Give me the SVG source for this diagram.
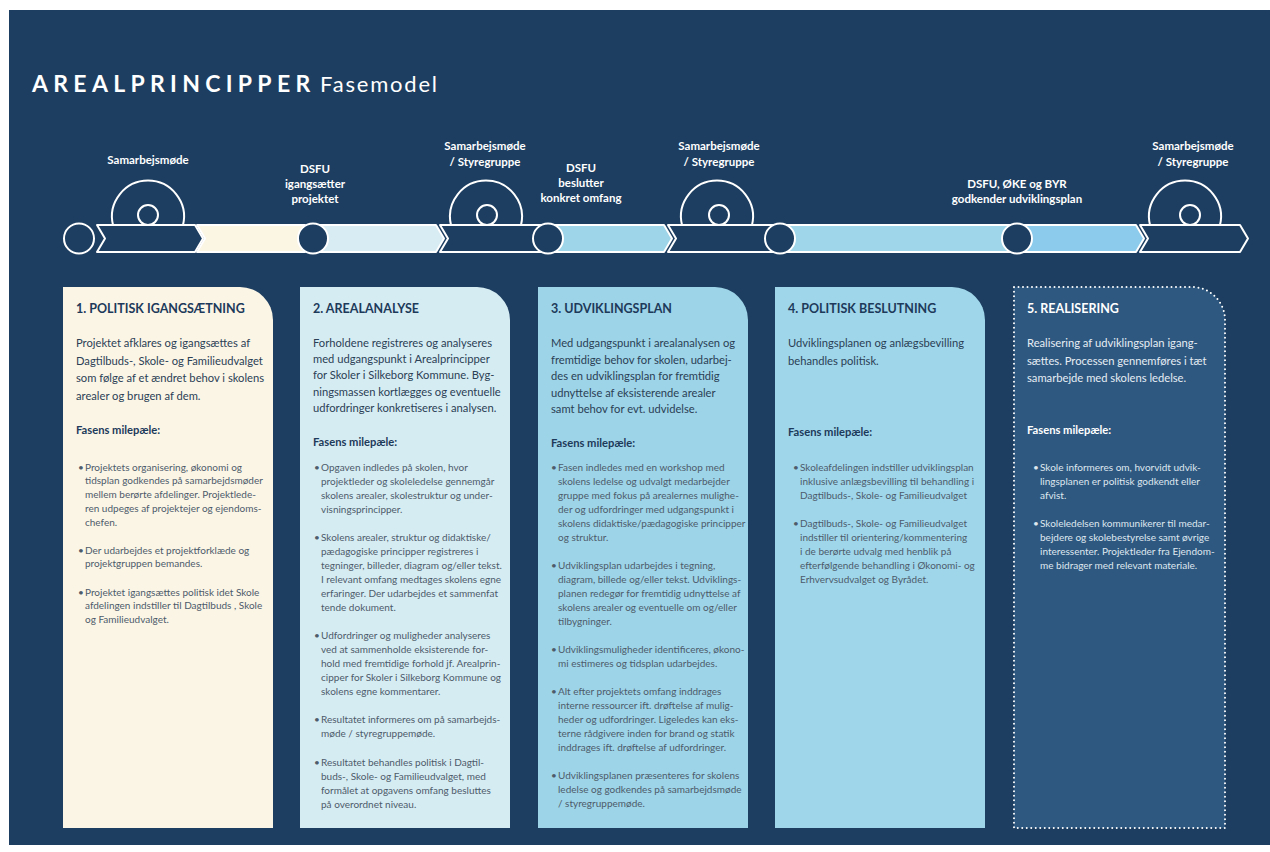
<svg xmlns="http://www.w3.org/2000/svg" width="1270" height="852" viewBox="0 0 1270 852">
<style>
.bg{fill:#1d3e60}
.ln{stroke:#ffffff;stroke-width:2;stroke-linejoin:round}
.dk{fill:#1d3e60}
.lbl{font-family:Lato,"Liberation Sans",sans-serif;font-weight:bold;font-size:11.5px;fill:#ffffff;text-anchor:middle}
.ct{font-family:Lato,"Liberation Sans",sans-serif;font-weight:bold;font-size:12.5px;fill:#1d3a5a}
.cp{font-family:Lato,"Liberation Sans",sans-serif;font-size:11.2px;fill:#2b3f55}
.cf{font-family:Lato,"Liberation Sans",sans-serif;font-weight:bold;font-size:11.2px;fill:#1d3a5a}
.cb{font-family:Lato,"Liberation Sans",sans-serif;font-size:10px;fill:#4d5b6a}
.w .ct,.w .cf{fill:#ffffff}
.w .cp{fill:#e6edf4}
.w .cb{fill:#dfe7ef}
</style>
<rect x="0" y="0" width="1270" height="852" fill="#ffffff"/>
<rect class="bg" x="9" y="10" width="1261" height="835"/>
<g id="title">
<text x="32" y="92" font-family="Lato,'Liberation Sans',sans-serif" font-weight="bold" font-size="23" fill="#ffffff" letter-spacing="5.3">AREALPRINCIPPER</text>
<text x="320" y="92" font-family="Lato,'Liberation Sans',sans-serif" font-size="22" fill="#ffffff" letter-spacing="1.8">Fasemodel</text>
</g>
<g id="meeting-rolls">
<path class="ln dk" d="M113,225 A36,36 0 1 1 183,225"/>
<path class="ln dk" d="M451,225 A36,36 0 1 1 521,225"/>
<path class="ln dk" d="M682,225 A36,36 0 1 1 752,225"/>
<path class="ln dk" d="M1150,225 A36,36 0 1 1 1220,225"/>
</g>
<g id="connectors">
<path class="ln" fill="#fbf5e4" d="M197,225 H305 V252 H197 L205,238.5 Z"/>
<path class="ln" fill="#d8ecf3" d="M313,225 H436 L444,238.5 L436,252 H313 Z"/>
<path class="ln" fill="#9fd5e8" d="M548,225 H664 L672,238.5 L664,252 H548 Z"/>
<path class="ln" fill="#9fd6ea" d="M780,225 H1017 V252 H780 Z"/>
<path class="ln" fill="#8ccbeb" d="M1017,225 H1136 L1144,238.5 L1136,252 H1017 Z"/>
</g>
<g id="meeting1">
<path class="ln dk" d="M97,225 H195 L203,238.5 L195,252 H97 L105,238.5 Z"/>
<circle class="ln dk" cx="148" cy="215" r="10"/>
<text class="lbl" x="148" y="164">Samarbejsmøde</text>
</g>
<g id="meeting2">
<path class="ln dk" d="M440,225 H548 V252 H440 L448,238.5 Z"/>
<circle class="ln dk" cx="487" cy="215" r="10"/>
<text class="lbl" x="485" y="150">Samarbejsmøde</text>
<text class="lbl" x="485" y="166">/ Styregruppe</text>
</g>
<g id="meeting3">
<path class="ln dk" d="M668,225 H780 V252 H668 L676,238.5 Z"/>
<circle class="ln dk" cx="719" cy="215" r="10"/>
<text class="lbl" x="719" y="150">Samarbejsmøde</text>
<text class="lbl" x="719" y="166">/ Styregruppe</text>
</g>
<g id="meeting4">
<path class="ln dk" d="M1140,225 H1240 L1248,238.5 L1240,252 H1140 L1148,238.5 Z"/>
<circle class="ln dk" cx="1190" cy="215" r="10"/>
<text class="lbl" x="1193" y="150">Samarbejsmøde</text>
<text class="lbl" x="1193" y="166">/ Styregruppe</text>
</g>
<g id="milestone0"><circle class="ln dk" cx="79" cy="238.5" r="15"/></g>
<g id="milestone1">
<circle class="ln dk" cx="313" cy="238.5" r="15"/>
<text class="lbl" x="315" y="173">DSFU</text>
<text class="lbl" x="315" y="188">igangsætter</text>
<text class="lbl" x="315" y="203">projektet</text>
</g>
<g id="milestone2">
<circle class="ln dk" cx="548" cy="238.5" r="15"/>
<text class="lbl" x="581" y="172">DSFU</text>
<text class="lbl" x="581" y="187">beslutter</text>
<text class="lbl" x="581" y="202">konkret omfang</text>
</g>
<g id="milestone3"><circle class="ln dk" cx="780" cy="238.5" r="15"/></g>
<g id="milestone4">
<circle class="ln dk" cx="1017" cy="238.5" r="15"/>
<text class="lbl" x="1017" y="188">DSFU, ØKE og BYR</text>
<text class="lbl" x="1017" y="203">godkender udviklingsplan</text>
</g>

<g id="card1">
<path fill="#fbf5e6" d="M63,287 H240 A33,33 0 0 1 273,320 V828 H63 Z"/>
<text class="ct" x="76" y="312.5">1. POLITISK IGANGSÆTNING</text>
<text class="cp"><tspan x="76" y="347">Projektet afklares og igangsættes af</tspan><tspan x="76" y="364.5">Dagtilbuds-, Skole- og Familieudvalget</tspan><tspan x="76" y="382">som følge af et ændret behov i skolens</tspan><tspan x="76" y="399.5">arealer og brugen af dem.</tspan></text>
<text class="cf" x="76" y="434">Fasens milepæle:</text>
<text class="cb"><tspan x="78" y="470.5">•</tspan><tspan x="85" y="470.5">Projektets organisering, økonomi og</tspan><tspan x="85" y="484.3">tidsplan godkendes på samarbejdsmøder</tspan><tspan x="85" y="498.1">mellem berørte afdelinger. Projektlede-</tspan><tspan x="85" y="511.9">ren udpeges af projektejer og ejendoms-</tspan><tspan x="85" y="525.7">chefen.</tspan>
<tspan x="78" y="553.5">•</tspan><tspan x="85" y="553.5">Der udarbejdes et projektforklæde og</tspan><tspan x="85" y="567.3">projektgruppen bemandes.</tspan>
<tspan x="78" y="595.5">•</tspan><tspan x="85" y="595.5">Projektet igangsættes politisk idet Skole</tspan><tspan x="85" y="609.3">afdelingen indstiller til Dagtilbuds , Skole</tspan><tspan x="85" y="623.1">og Familieudvalget.</tspan></text>
</g>

<g id="card2">
<path fill="#d6ecf3" d="M300,287 H477 A33,33 0 0 1 510,320 V828 H300 Z"/>
<text class="ct" x="313" y="312.5">2. AREALANALYSE</text>
<text class="cp"><tspan x="313" y="347">Forholdene registreres og analyseres</tspan><tspan x="313" y="363.2">med udgangspunkt i Arealprincipper</tspan><tspan x="313" y="379.4">for Skoler i Silkeborg Kommune. Byg-</tspan><tspan x="313" y="395.6">ningsmassen kortlægges og eventuelle</tspan><tspan x="313" y="411.8">udfordringer konkretiseres i analysen.</tspan></text>
<text class="cf" x="313" y="446">Fasens milepæle:</text>
<text class="cb"><tspan x="314" y="470.5">•</tspan><tspan x="321" y="470.5">Opgaven indledes på skolen, hvor</tspan><tspan x="321" y="484.5">projektleder og skoleledelse gennemgår</tspan><tspan x="321" y="498.5">skolens arealer, skolestruktur og under-</tspan><tspan x="321" y="512.5">visningsprincipper.</tspan>
<tspan x="314" y="540.5">•</tspan><tspan x="321" y="540.5">Skolens arealer, struktur og didaktiske/</tspan><tspan x="321" y="554.5">pædagogiske principper registreres i</tspan><tspan x="321" y="568.5">tegninger, billeder, diagram og/eller tekst.</tspan><tspan x="321" y="582.5">I relevant omfang medtages skolens egne</tspan><tspan x="321" y="596.5">erfaringer. Der udarbejdes et sammenfat</tspan><tspan x="321" y="610.5">tende dokument.</tspan>
<tspan x="314" y="638.5">•</tspan><tspan x="321" y="638.5">Udfordringer og muligheder analyseres</tspan><tspan x="321" y="652.5">ved at sammenholde eksisterende for-</tspan><tspan x="321" y="666.5">hold med fremtidige forhold jf.  Arealprin-</tspan><tspan x="321" y="680.5">cipper for Skoler i Silkeborg Kommune og</tspan><tspan x="321" y="694.5">skolens egne kommentarer.</tspan>
<tspan x="314" y="722.5">•</tspan><tspan x="321" y="722.5">Resultatet informeres om på samarbejds-</tspan><tspan x="321" y="736.5">møde / styregruppemøde.</tspan>
<tspan x="314" y="765.5">•</tspan><tspan x="321" y="765.5">Resultatet behandles politisk i Dagtil-</tspan><tspan x="321" y="779.5">buds-, Skole- og Familieudvalget, med</tspan><tspan x="321" y="793.5">formålet at opgavens omfang besluttes</tspan><tspan x="321" y="807.5">på overordnet niveau.</tspan></text>
</g>

<g id="card3">
<path fill="#9dd4e8" d="M538,287 H715 A33,33 0 0 1 748,320 V828 H538 Z"/>
<text class="ct" x="551" y="312.5">3. UDVIKLINGSPLAN</text>
<text class="cp"><tspan x="551" y="347">Med udgangspunkt i arealanalysen og</tspan><tspan x="551" y="363.5">fremtidige behov for skolen, udarbej-</tspan><tspan x="551" y="380">des en udviklingsplan for fremtidig</tspan><tspan x="551" y="396.5">udnyttelse af eksisterende arealer</tspan><tspan x="551" y="413">samt behov for evt. udvidelse.</tspan></text>
<text class="cf" x="551" y="447">Fasens milepæle:</text>
<text class="cb"><tspan x="551" y="470.5">•</tspan><tspan x="558" y="470.5">Fasen indledes med en workshop med</tspan><tspan x="558" y="484.5">skolens ledelse og udvalgt medarbejder</tspan><tspan x="558" y="498.5">gruppe med fokus på arealernes mulighe-</tspan><tspan x="558" y="512.5">der og udfordringer med udgangspunkt i</tspan><tspan x="558" y="526.5">skolens didaktiske/pædagogiske principper</tspan><tspan x="558" y="540.5">og struktur.</tspan>
<tspan x="551" y="568.5">•</tspan><tspan x="558" y="568.5">Udviklingsplan udarbejdes i tegning,</tspan><tspan x="558" y="582.5">diagram, billede og/eller tekst. Udviklings-</tspan><tspan x="558" y="596.5">planen redegør for fremtidig udnyttelse af</tspan><tspan x="558" y="610.5">skolens arealer og eventuelle om  og/eller</tspan><tspan x="558" y="624.5">tilbygninger.</tspan>
<tspan x="551" y="652.5">•</tspan><tspan x="558" y="652.5">Udviklingsmuligheder identificeres, økono-</tspan><tspan x="558" y="666.5">mi estimeres og tidsplan udarbejdes.</tspan>
<tspan x="551" y="694.5">•</tspan><tspan x="558" y="694.5">Alt efter projektets omfang inddrages</tspan><tspan x="558" y="708.5">interne ressourcer ift. drøftelse af mulig-</tspan><tspan x="558" y="722.5">heder og udfordringer. Ligeledes kan eks-</tspan><tspan x="558" y="736.5">terne rådgivere inden for brand og statik</tspan><tspan x="558" y="750.5">inddrages ift. drøftelse af udfordringer.</tspan>
<tspan x="551" y="778.5">•</tspan><tspan x="558" y="778.5">Udviklingsplanen præsenteres for skolens</tspan><tspan x="558" y="792.5">ledelse og godkendes på samarbejdsmøde</tspan><tspan x="558" y="806.5">/ styregruppemøde.</tspan></text>
</g>

<g id="card4">
<path fill="#9fd6ea" d="M775,287 H952 A33,33 0 0 1 985,320 V828 H775 Z"/>
<text class="ct" x="788" y="312.5">4. POLITISK BESLUTNING</text>
<text class="cp"><tspan x="788" y="347">Udviklingsplanen og anlægsbevilling</tspan><tspan x="788" y="365">behandles politisk.</tspan></text>
<text class="cf" x="788" y="436">Fasens milepæle:</text>
<text class="cb"><tspan x="793" y="470.5">•</tspan><tspan x="800" y="470.5">Skoleafdelingen indstiller udviklingsplan</tspan><tspan x="800" y="484.5">inklusive anlægsbevilling til behandling i</tspan><tspan x="800" y="498.5">Dagtilbuds-, Skole- og Familieudvalget</tspan>
<tspan x="793" y="526.5">•</tspan><tspan x="800" y="526.5">Dagtilbuds-, Skole- og Familieudvalget</tspan><tspan x="800" y="540.5">indstiller til orientering/kommentering</tspan><tspan x="800" y="554.5">i de berørte udvalg med henblik på</tspan><tspan x="800" y="568.5">efterfølgende behandling i Økonomi- og</tspan><tspan x="800" y="582.5">Erhvervsudvalget og Byrådet.</tspan></text>
</g>

<g id="card5" class="w">
<path fill="#2e5880" stroke="#ffffff" stroke-width="2" stroke-linecap="round" stroke-dasharray="0 4.5" d="M1014,287 H1192 A33,33 0 0 1 1225,320 V828 H1014 Z"/>
<text class="ct" x="1027" y="312.5">5. REALISERING</text>
<text class="cp"><tspan x="1027" y="347">Realisering af udviklingsplan igang-</tspan><tspan x="1027" y="364.5">sættes. Processen gennemføres i tæt</tspan><tspan x="1027" y="382">samarbejde med skolens ledelse.</tspan></text>
<text class="cf" x="1027" y="434">Fasens milepæle:</text>
<text class="cb"><tspan x="1033" y="470.5">•</tspan><tspan x="1040" y="470.5">Skole informeres om, hvorvidt udvik-</tspan><tspan x="1040" y="484.5">lingsplanen er politisk godkendt eller</tspan><tspan x="1040" y="498.5">afvist.</tspan>
<tspan x="1033" y="526.5">•</tspan><tspan x="1040" y="526.5">Skoleledelsen kommunikerer til medar-</tspan><tspan x="1040" y="540.5">bejdere og skolebestyrelse samt øvrige</tspan><tspan x="1040" y="554.5">interessenter. Projektleder fra Ejendom-</tspan><tspan x="1040" y="568.5">me bidrager med relevant materiale.</tspan></text>
</g>
</svg>
